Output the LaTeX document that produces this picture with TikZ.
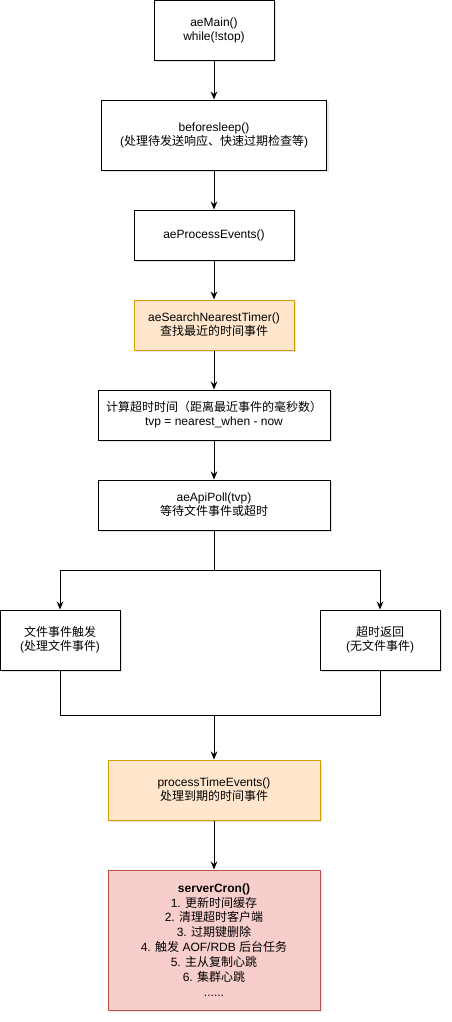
\documentclass[tikz,border=0pt]{standalone}
\usepackage{fontspec}
\setmainfont{Liberation Sans}
\newfontfamily\cjk{Noto Sans CJK SC}
\usetikzlibrary{arrows.meta,shadows}
\definecolor{timefill}{HTML}{FFE6CC}
\definecolor{timeline}{HTML}{D79B00}
\definecolor{cronfill}{HTML}{F8CECC}
\definecolor{cronline}{HTML}{B85450}
\tikzset{
  box/.style n args={2}{draw, fill=white, line width=0.75pt,
    minimum width=#1*0.75pt, minimum height=#2*0.75pt,
    align=center, inner sep=0pt, font=\fontsize{9}{10.5}\selectfont,
    drop shadow={shadow xshift=1.5pt, shadow yshift=-1.5pt, opacity=0.2}},
  timebox/.style={fill=timefill, draw=timeline},
  cronbox/.style={fill=cronfill, draw=cronline, font=\fontsize{9}{11.2}\selectfont},
  wire/.style={line width=0.75pt},
  flow/.style={wire, -{Stealth[length=6pt,width=5pt]}}
}
\begin{document}
\begin{tikzpicture}[x=0.75pt,y=-0.75pt]
\useasboundingbox (0,0) rectangle (452,1022);
\node[box={120}{60}] (main) at (214,30) {aeMain()\\while(!stop)};
\node[box={225}{70}] (sleep) at (214,135) {beforesleep()\\({\cjk 处理待发送响应、快速过期检查等})};
\node[box={160}{50}] (events) at (214,235) {aeProcessEvents()};
\node[box={160}{50},timebox] (search) at (214,325) {aeSearchNearestTimer()\\{\cjk 查找最近的时间事件}};
\node[box={232}{50}] (calc) at (214,415) {{\cjk 计算超时时间（距离最近事件的毫秒数）}\\tvp = nearest\_when - now};
\node[box={232}{50}] (poll) at (214,505) {aeApiPoll(tvp)\\{\cjk 等待文件事件或超时}};
\node[box={120}{60}] (fileev) at (60,640) {{\cjk 文件事件触发}\\({\cjk 处理文件事件})};
\node[box={120}{60}] (timeout) at (380,640) {{\cjk 超时返回}\\({\cjk 无文件事件})};
\node[box={212}{60},timebox] (timeev) at (214,790) {processTimeEvents()\\{\cjk 处理到期的时间事件}};
\node[box={212}{140},cronbox] (cron) at (214,940) {\textbf{serverCron()}\\
  1. {\cjk 更新时间缓存}\\
  2. {\cjk 清理超时客户端}\\
  3. {\cjk 过期键删除}\\
  4. {\cjk 触发} AOF/RDB {\cjk 后台任务}\\
  5. {\cjk 主从复制心跳}\\
  6. {\cjk 集群心跳}\\
  ......};
\coordinate (split) at (214,570);
\coordinate (merge) at (214,715);
\draw[flow] (main) -- (sleep);
\draw[flow] (sleep) -- (events);
\draw[flow] (events) -- (search);
\draw[flow] (search) -- (calc);
\draw[flow] (calc) -- (poll);
\draw[wire] (poll) -- (split);
\draw[flow] (split) -| (fileev);
\draw[flow] (split) -| (timeout);
\draw[wire] (fileev) |- (merge);
\draw[wire] (timeout) |- (merge);
\draw[flow] (merge) -- (timeev);
\draw[flow] (timeev) -- (cron);
\end{tikzpicture}
\end{document}
